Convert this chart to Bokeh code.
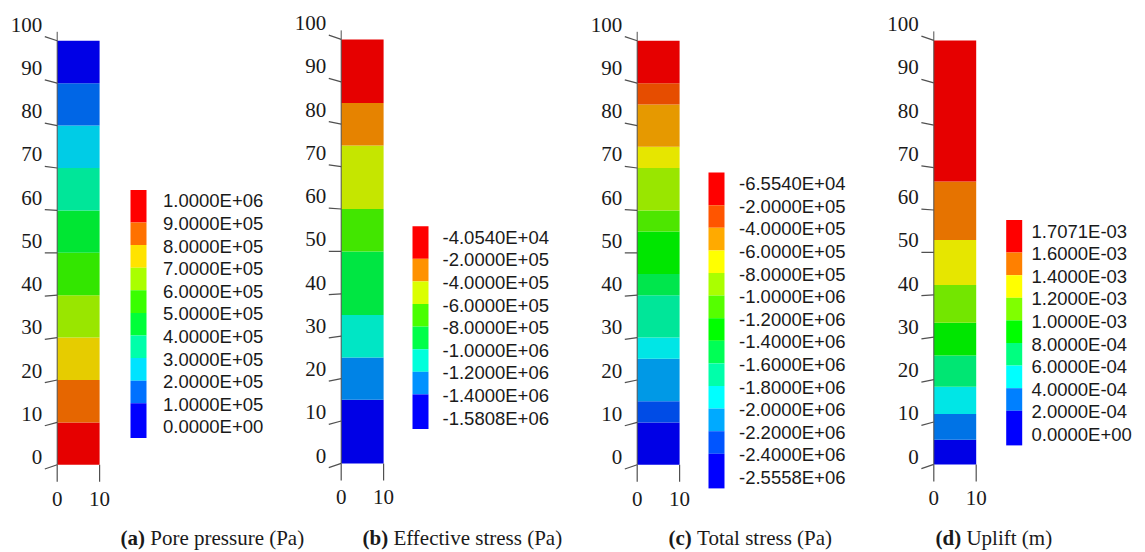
import colorsys

from bokeh.core.properties import value
from bokeh.embed import file_html
from bokeh.models import Range1d
from bokeh.plotting import figure
from bokeh.resources import INLINE

# Axis ticks (m)
depth_ticks = [0, 10, 20, 30, 40, 50, 60, 70, 80, 90, 100]
width_ticks = [0, 10]

# (a) Pore pressure: contour levels (Pa), band edges along depth (m),
# and the contour interval of each band from bottom to top
pore_levels = [0.0, 1.0e5, 2.0e5, 3.0e5, 4.0e5, 5.0e5, 6.0e5, 7.0e5, 8.0e5, 9.0e5, 1.0e6]
pore_edges = [0, 10, 20, 30, 40, 50, 60, 70, 80, 90, 100]
pore_bands = [9, 8, 7, 6, 5, 4, 3, 2, 1, 0]

# (b) Effective stress (Pa)
eff_levels = [-1.5808e6, -1.4e6, -1.2e6, -1.0e6, -8.0e5, -6.0e5, -4.0e5, -2.0e5, -4.054e4]
eff_edges = [0, 15, 25, 35, 50, 60, 75, 85, 100]
eff_bands = [0, 1, 2, 3, 4, 5, 6, 7]

# (c) Total stress (Pa)
tot_levels = [-2.5558e6, -2.4e6, -2.2e6, -2.0e6, -1.8e6, -1.6e6, -1.4e6,
              -1.2e6, -1.0e6, -8.0e5, -6.0e5, -4.0e5, -2.0e5, -6.554e4]
tot_edges = [0, 10, 15, 25, 30, 40, 45, 55, 60, 70, 75, 85, 90, 100]
tot_bands = [0, 1, 2, 3, 4, 5, 6, 7, 8, 9, 10, 11, 12]

# (d) Uplift (m)
up_levels = [0.0, 2.0e-4, 4.0e-4, 6.0e-4, 8.0e-4, 1.0e-3, 1.2e-3, 1.4e-3, 1.6e-3, 1.7071e-3]
up_edges = [0, 5.8, 11.9, 18.3, 25.7, 33.4, 42.3, 52.9, 66.7, 100]
up_bands = [0, 1, 2, 3, 4, 5, 6, 7, 8]

captions = [("(a)", "Pore pressure (Pa)"), ("(b)", "Effective stress (Pa)"),
            ("(c)", "Total stress (Pa)"), ("(d)", "Uplift (m)")]

# ---- layout (pixels) ----
W, H = 1145, 552
S = 4.24            # pixels per metre, both directions
STEP = 22.6         # legend row pitch
SERIF = value("Liberation Serif")
SANS = value("Liberation Sans")
INK = "#1a1a1a"
AXIS = "#505050"
BOLD_W = {"a": 0.5, "b": 0.556, "c": 0.444, "d": 0.556}   # Times bold advance (em)

# one canvas; every panel gets its own pair of data ranges
p = figure(width=W, height=H, output_backend="svg", toolbar_location=None,
           x_range=Range1d(0, W), y_range=Range1d(H, 0),
           x_axis_type=None, y_axis_type=None, min_border=0)
p.outline_line_color = None
p.background_fill_color = "white"
p.border_fill_color = "white"


def rainbow(n):
    """Blue-to-red contour palette with n entries (index 0 = lowest)."""
    out = []
    for k in range(n):
        h = 240.0 * (1 - k / (n - 1)) / 360.0
        out.append(colorsys.hsv_to_rgb(h, 1.0, 1.0))
    return out


def hexcol(rgb, f=1.0):
    return "#%02x%02x%02x" % tuple(int(round(c * 255 * f)) for c in rgb)


def panel(name, col_left, col_bottom, levels, edges, bands,
          leg_left, leg_top, label_left, cap_left, caption):
    X = lambda px: (px - col_left) / S
    Y = lambda py: (col_bottom - py) / S
    p.extra_x_ranges[name] = Range1d(X(0), X(W))
    p.extra_y_ranges[name] = Range1d(Y(H), Y(0))
    kw = dict(x_range_name=name, y_range_name=name)

    n_int = len(levels) - 1
    pal = rainbow(n_int)

    # coloured soil column
    p.quad(left=width_ticks[0], right=width_ticks[-1],
           bottom=edges[:-1], top=edges[1:],
           fill_color=[hexcol(pal[b], 0.9) for b in bands], line_color=None, **kw)

    # depth axis with perspective ticks
    p.segment(x0=[0], y0=[0], x1=[0], y1=[depth_ticks[-1] + 9 / S],
              line_color=AXIS, line_width=1, **kw)
    tl = -12.4 / S
    ty = [v + (v - 50) * 0.02 for v in depth_ticks]
    p.segment(x0=[0] * len(depth_ticks), y0=depth_ticks,
              x1=[tl] * len(depth_ticks), y1=ty, line_color=AXIS, line_width=1.2, **kw)
    p.text(x=[-15 / S] * len(depth_ticks), y=[t + 12 / S for t in ty],
           text=[str(v) for v in depth_ticks], text_font=SERIF, text_font_size="21px",
           text_align="right", text_baseline="middle", text_color=INK, **kw)

    # width axis
    p.segment(x0=width_ticks, y0=[0] * 2, x1=width_ticks, y1=[-17 / S] * 2,
              line_color=AXIS, line_width=1.2, **kw)
    p.text(x=width_ticks, y=[-34 / S] * 2, text=[str(v) for v in width_ticks],
           text_font=SERIF, text_font_size="21px", text_align="center",
           text_baseline="middle", text_color=INK, **kw)

    # legend
    tops, bots, cols = [], [], []
    for j in range(n_int):
        t = leg_top + j * STEP - (10 if j == 0 else 0)
        b = leg_top + (j + 1) * STEP + (12 if j == n_int - 1 else 0)
        tops.append(Y(t))
        bots.append(Y(b))
        cols.append(hexcol(pal[n_int - 1 - j]))
    p.quad(left=X(leg_left), right=X(leg_left + 16), top=tops, bottom=bots,
           fill_color=cols, line_color=None, **kw)
    labs = ["%.4E" % v for v in levels[::-1]]
    p.text(x=[X(label_left)] * len(labs),
           y=[Y(leg_top + j * STEP + 1) for j in range(len(labs))],
           text=labs, text_font=SANS, text_font_size="18.5px",
           text_align="left", text_baseline="middle", text_color=INK, **kw)

    # caption
    tag, rest = caption
    p.text(x=[X(cap_left)], y=[Y(537)], text=[tag], text_font=SERIF,
           text_font_size="21px", text_font_style="bold", text_align="left",
           text_baseline="middle", text_color=INK, **kw)
    adv = 21 * (0.666 + BOLD_W[tag[1]] + 0.25)
    p.text(x=[X(cap_left + adv)], y=[Y(537)], text=[rest], text_font=SERIF,
           text_font_size="21px", text_align="left",
           text_baseline="middle", text_color=INK, **kw)


panel("a", 56.7, 464.3, pore_levels, pore_edges, pore_bands,
      130, 199.4, 162.5, 120, captions[0])
panel("b", 340.7, 462.9, eff_levels, eff_edges, eff_bands,
      412, 235.7, 442, 362, captions[1])
panel("c", 636.7, 464.3, tot_levels, tot_edges, tot_bands,
      708, 182.1, 738.5, 668, captions[2])
panel("d", 933.3, 463.9, up_levels, up_edges, up_bands,
      1005.7, 229.5, 1031, 935, captions[3])

open("out.html", "w").write(file_html(p, INLINE))
